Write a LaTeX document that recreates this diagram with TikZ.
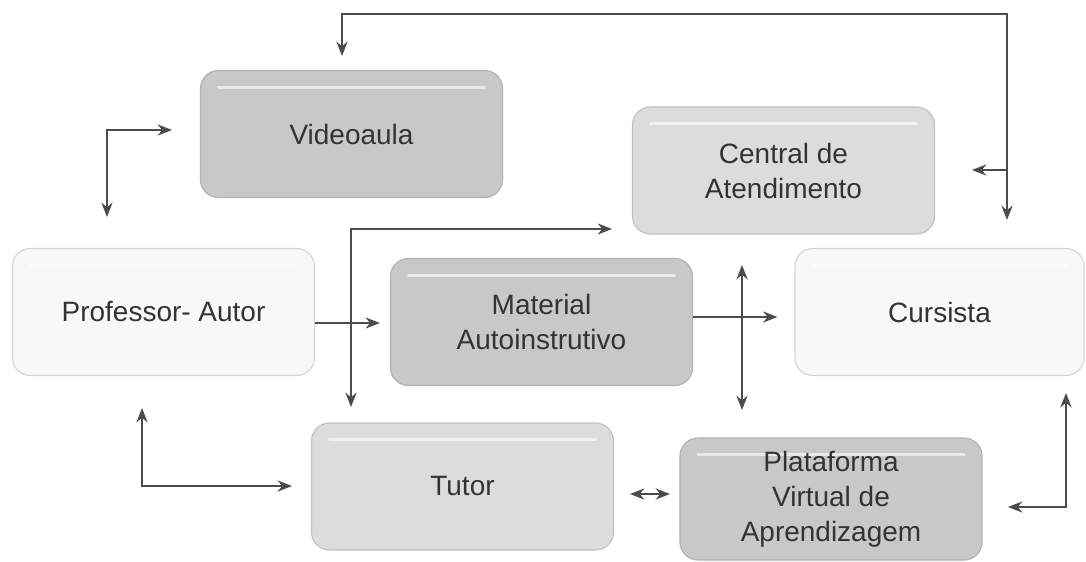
\documentclass[tikz,border=0pt]{standalone}
\usepackage{fontspec}
\setmainfont{Liberation Sans}
\usepackage{tikz}
\usetikzlibrary{positioning, arrows.meta}
\usepackage{xcolor}

\definecolor{boxdark}{HTML}{C8C8C8}
\definecolor{boxmid}{HTML}{DCDCDC}
\definecolor{boxlight}{HTML}{F8F8F8}

\begin{document}
\begin{tikzpicture}[
  x=0.025cm, y=-0.025cm,
  box/.style={rounded corners=0.45cm, minimum width=7.55cm, minimum height=3.175cm,
    inner sep=0pt, align=center, text=black!80, line width=0.8pt,
    font=\fontsize{19.9pt}{24.9pt}\selectfont,
    path picture={\draw[white, opacity=0.6, line width=2.2pt, line cap=round]
      ([xshift=0.45cm, yshift=-0.42cm]path picture bounding box.north west) --
      ([xshift=-0.45cm, yshift=-0.42cm]path picture bounding box.north east);}},
  dark/.style={box, fill=boxdark, draw=black!30},
  mid/.style={box, fill=boxmid, draw=black!24},
  light/.style={box, fill=boxlight, draw=black!17},
  link/.style={draw=black!70, line width=1pt, {Stealth[length=3.6mm, width=2.8mm]}-{Stealth[length=3.6mm, width=2.8mm]}},
  onelink/.style={draw=black!70, line width=1pt, -{Stealth[length=3.6mm, width=2.8mm]}}
]
  \useasboundingbox (0,0) rectangle (1086,561);

  \node[dark] (vid) at (351.5,134) {Videoaula};
  \node[mid] (cen) at (783.5,170.5) {Central de\\Atendimento};
  \node[light] (prof) at (163.5,312) {Professor- Autor};
  \node[dark] (mat) at (541.5,322) {Material\\Autoinstrutivo};
  \node[light, minimum width=7.225cm] (cur) at (939.5,312) {Cursista};
  \node[mid] (tut) at (462.5,486.5) {Tutor};
  \node[dark, minimum height=3.05cm] (pla) at (831,499) {Plataforma\\Virtual de\\Aprendizagem};

  % free ends of the connectors
  \coordinate (vidtop) at (342,56);
  \coordinate (curtop) at (1007,220);
  \coordinate (cenright) at (972,170);
  \coordinate (branch) at (1007,170);
  \coordinate (vidleft) at (172,130);
  \coordinate (proftop) at (107,217);
  \coordinate (cenleft) at (612,229);
  \coordinate (tuttop) at (351,407);
  \coordinate (profbot) at (142,408);
  \coordinate (tutleft) at (292,486);
  \coordinate (cenbot) at (742,265);
  \coordinate (platop) at (742,410);
  \coordinate (tutright) at (630,494);
  \coordinate (plaleft) at (670,494);
  \coordinate (curbot) at (1066,393);
  \coordinate (plaright) at (1008,507);

  \draw[link] (vidtop) -- (vidtop |- 0,14) -- (curtop |- 0,14) -- (curtop);
  \draw[onelink] (branch) -- (cenright);
  \draw[link] (proftop) |- (vidleft);
  \draw[link] (tuttop) |- (cenleft);
  \draw[link] (profbot) |- (tutleft);
  \draw[onelink, shorten >=0.25cm] (prof.east |- 0,323) -- (mat.west |- 0,323);
  \draw[onelink, shorten >=0.425cm] (mat.east |- 0,317) -- (cur.west |- 0,317);
  \draw[link] (cenbot) -- (platop);
  \draw[link] (tutright) -- (plaleft);
  \draw[link] (plaright) -| (curbot);
\end{tikzpicture}
\end{document}
